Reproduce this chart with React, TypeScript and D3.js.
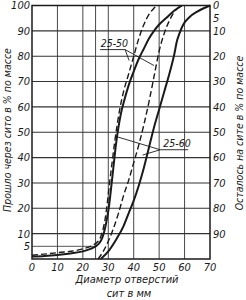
import React from 'react';
import * as d3 from 'd3';

// sieve sizes (mm) and cumulative % passed
const xTicks = [0, 10, 20, 30, 40, 50, 60, 70];
const leftTicks = [5, 10, 20, 30, 40, 50, 60, 70, 80, 90, 100];
const rightTicks = [0, 5, 10, 20, 30, 40, 50, 60, 70, 80, 90];
const gridX = [10, 20, 25, 30, 40, 50, 60];
const gridY = [10, 20, 30, 40, 50, 60, 70, 80, 90];

// 25-60 fraction (solid)
const solidFine = [
  [0, 1], [5, 1.2], [10, 1.6], [15, 2.2], [20, 3], [23, 4], [25, 5], [26.5, 6.3],
  [27.7, 8.5], [28.7, 12], [29.5, 16], [30.3, 21], [31, 27], [32, 36], [33, 45], [34, 52],
  [35, 57.5], [36, 61.5], [38, 68.5], [40, 74], [42, 79], [44, 83], [46, 87],
  [48, 90], [50, 92.5], [53, 95.3], [56, 98], [59, 100],
];
const solidCoarse = [
  [27, 0], [30, 3], [33, 7.5], [36, 13], [38, 18], [40, 23], [42, 29], [44, 36],
  [46, 44], [48, 52], [50, 59], [52, 66], [54, 73], [56, 81], [57, 86],
  [58, 89], [59.5, 92.5], [62, 95.5], [65, 97.6], [70, 100],
];
// 25-50 fraction (dashed)
const dashedFine = [
  [0, 1.5], [10, 2.5], [20, 4], [24, 5.5], [25.8, 6.8], [27, 8.7], [28, 12],
  [28.8, 16], [29.6, 22], [30.5, 30], [31.5, 38], [32.5, 46], [33.5, 53], [34.5, 59],
  [36, 66], [38, 73], [40, 80], [42, 87], [44, 92.5], [46, 96.5], [48, 99], [49, 100],
];
const dashedCoarse = [
  [26, 0], [28, 3], [30, 7], [32, 12], [34, 18], [36, 25], [38, 31], [40, 38],
  [42, 45], [44, 53], [46, 62], [48, 72], [50, 82], [52, 89], [54, 94],
  [56, 97.5], [58.5, 100],
];

// labels: [x, y] in data units for text, and leader line ends
const label2550 = { text: '25-50', at: [27, 83.8], line: [26.8, 36.6, 82.6], leaders: [[38.2, 78.3], [48.0, 76.3]] };
const label2560 = { text: '25-60', at: [51.6, 44.3], line: [50.4, 61.4, 43.1], leaders: [[33.5, 48.2], [43.5, 41.0]] };

const font = "'DejaVu Sans Condensed', 'Liberation Sans Narrow', 'DejaVu Sans', sans-serif";

export default function App() {
  const W = 246;
  const H = 300;
  const x = d3.scaleLinear().domain([0, 70]).range([32, 210]);
  const y = d3.scaleLinear().domain([0, 100]).range([259, 5.5]);
  const line = d3.line<number[]>()
    .x(d => x(d[0]))
    .y(d => y(d[1]))
    .curve(d3.curveMonotoneX);
  const ink = '#1a1a1a';
  const txt = { fontFamily: font, fontStyle: 'italic' as const, fill: ink };

  const label = (l: typeof label2550) => (
    <g>
      <text x={x(l.at[0])} y={y(l.at[1])} fontSize={10.5} {...txt}>{l.text}</text>
      <line x1={x(l.line[0])} x2={x(l.line[1])} y1={y(l.line[2])} y2={y(l.line[2])} stroke={ink} strokeWidth={0.9} />
      {l.leaders.map((p, i) => {
        const sx = l.line[0] > 40 ? x(l.line[0]) : x(l.line[1]);
        return <line key={i} x1={sx} y1={y(l.line[2])} x2={x(p[0])} y2={y(p[1])} stroke={ink} strokeWidth={0.9} />;
      })}
    </g>
  );

  return (
    <svg width={W} height={H} style={{ position: 'absolute', left: 0, top: 0, background: '#fff' }}>
      <rect width={W} height={H} fill="#fff" />
      {/* grid */}
      {gridX.map(v => (
        <line key={'gx' + v} x1={x(v)} x2={x(v)} y1={y(0)} y2={y(100)} stroke="#333" strokeWidth={0.9} />
      ))}
      {gridY.map(v => (
        <line key={'gy' + v} x1={x(0)} x2={x(70)} y1={y(v)} y2={y(v)} stroke="#333" strokeWidth={1.1} />
      ))}
      <line x1={x(0)} x2={x(25)} y1={y(5)} y2={y(5)} stroke="#444" strokeWidth={0.9} />
      {/* frame */}
      <rect x={x(0)} y={y(100)} width={x(70) - x(0)} height={y(0) - y(100)} fill="none" stroke={ink} strokeWidth={1.5} />

      {/* curves */}
      <path d={line(solidFine as number[][]) || ''} fill="none" stroke={ink} strokeWidth={2} />
      <path d={line(solidCoarse as number[][]) || ''} fill="none" stroke={ink} strokeWidth={2} />
      <path d={line(dashedFine as number[][]) || ''} fill="none" stroke={ink} strokeWidth={1.4} strokeDasharray="6 3" />
      <path d={line(dashedCoarse as number[][]) || ''} fill="none" stroke={ink} strokeWidth={1.4} strokeDasharray="6 3" />

      {label(label2550)}
      {label(label2560)}

      {/* left ticks */}
      {leftTicks.map(v => (
        <text key={'l' + v} x={x(0) - 2} y={y(v)} dy="0.35em" textAnchor="end" fontSize={11} {...txt}>{v}</text>
      ))}
      {/* right ticks */}
      {rightTicks.map(v => (
        <text key={'r' + v} x={x(70) + 3} y={y(100 - v)} dy="0.35em" textAnchor="start" fontSize={11} {...txt}>{v}</text>
      ))}
      {/* bottom ticks */}
      {xTicks.map(v => (
        <text key={'b' + v} x={x(v)} y={271} textAnchor="middle" fontSize={11} {...txt}>{v}</text>
      ))}

      {/* axis titles */}
      <text transform={`translate(11,${130}) rotate(-90)`} textAnchor="middle" fontSize={10.5} {...txt}>
        Прошло через сито в % по массе
      </text>
      <text transform={`translate(243,${133}) rotate(-90)`} textAnchor="middle" fontSize={10.5} {...txt}>
        Осталось на сите в % по массе
      </text>
      <text x={127} y={283} textAnchor="middle" fontSize={11} {...txt}>Диаметр отверстий</text>
      <text x={129} y={297} textAnchor="middle" fontSize={11} {...txt}>сит в мм</text>
    </svg>
  );
}
